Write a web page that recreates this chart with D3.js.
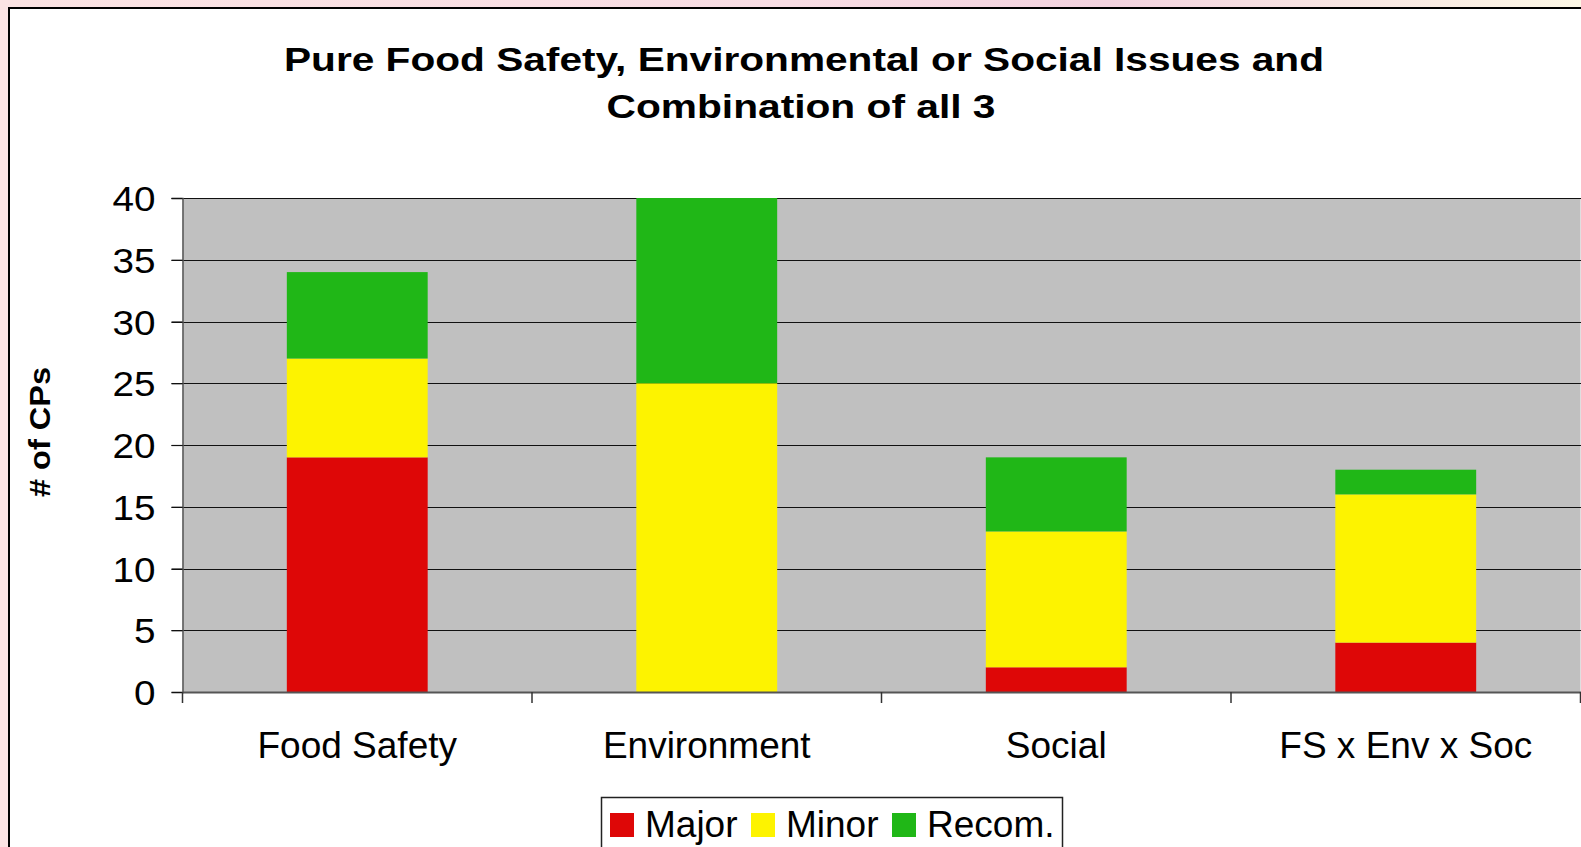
<!DOCTYPE html>
<html>
<head>
<meta charset="utf-8">
<script src="https://cdn.jsdelivr.net/npm/d3@7"></script>
<style>
  html, body { margin: 0; padding: 0; }
  body {
    width: 1581px; height: 847px; overflow: hidden;
    background: linear-gradient(90deg, #fbe3e3 0%, #f8dde4 50%, #f3d3df 70%, #fdf8e6 100%);
  }
  svg { display: block; font-family: "Liberation Sans", Arial, sans-serif; }
</style>
</head>
<body>
<svg id="chart"></svg>
<script>
const categories = ["Food Safety", "Environment", "Social", "FS x Env x Soc"];
const seriesNames = ["Major", "Minor", "Recom."];
const major = [19, 0, 2, 4];
const minor = [8, 25, 11, 12];
const recom = [7, 15, 6, 2];
const yTicks = [0, 5, 10, 15, 20, 25, 30, 35, 40];
const colors = ["#de0707", "#fdf300", "#20b717"];

const svgWidth = 1581;
const svgHeight = 847;

const svg = d3.select("#chart")
  .attr("width", svgWidth)
  .attr("height", svgHeight);

// frame of the chart (runs off the right and bottom edges)
svg.append("rect")
  .attr("x", 9).attr("y", 8)
  .attr("width", 1600).attr("height", 900)
  .attr("fill", "#fff")
  .attr("stroke", "#000")
  .attr("stroke-width", 2);

const plotLeft = 182.5, plotRight = 1580.5, plotTop = 198, plotBottom = 692;

let xScale = d3.scaleBand()
  .domain(categories)
  .range([plotLeft, plotRight])
  .paddingInner(0)
  .paddingOuter(0);

let yScale = d3.scaleLinear()
  .domain([0, 40])
  .range([plotBottom, plotTop]);

// plot background
svg.append("rect")
  .attr("x", plotLeft).attr("y", plotTop)
  .attr("width", plotRight - plotLeft)
  .attr("height", plotBottom - plotTop)
  .attr("fill", "#c0c0c0");

// gridlines
svg.append("g")
  .selectAll("line")
  .data(yTicks.filter(d => d > 0))
  .enter()
  .append("line")
  .attr("x1", plotLeft - 11)
  .attr("x2", plotRight + 5)
  .attr("y1", d => Math.round(yScale(d)) + 0.5)
  .attr("y2", d => Math.round(yScale(d)) + 0.5)
  .attr("stroke", "#111")
  .attr("stroke-width", 1.2);

// stacked bars
const table = categories.map((c, i) => ({ cat: c, Major: major[i], Minor: minor[i], "Recom.": recom[i] }));
const stacked = d3.stack().keys(seriesNames)(table);
const barW = xScale.bandwidth() * 0.403;

svg.append("g")
  .selectAll("g")
  .data(stacked)
  .enter()
  .append("g")
  .attr("fill", (d, i) => colors[i])
  .selectAll("rect")
  .data(d => d)
  .enter()
  .append("rect")
  .attr("x", d => xScale(d.data.cat) + (xScale.bandwidth() - barW) / 2)
  .attr("y", d => yScale(d[1]))
  .attr("width", barW)
  .attr("height", d => yScale(d[0]) - yScale(d[1]));

// y axis
let y_axis = d3.axisLeft(yScale).tickValues(yTicks).tickSize(11).tickPadding(16);
const yg = svg.append("g")
  .attr("transform", `translate(${plotLeft},0)`)
  .call(y_axis);
yg.select(".domain").attr("stroke", "#555").attr("stroke-width", 1.5);
yg.selectAll(".tick line").attr("stroke", "#111").attr("stroke-width", 1.2);
yg.selectAll(".tick text")
  .attr("font-size", 35)
  .attr("font-family", "Liberation Sans, Arial, sans-serif")
  .attr("fill", "#000")
  .attr("dy", "0.36em")
  .attr("textLength", d => String(d).length * 21.5)
  .attr("lengthAdjust", "spacingAndGlyphs");

// x axis
let x_axis = d3.axisBottom(xScale).tickSize(0).tickPadding(40);
const xg = svg.append("g")
  .attr("transform", `translate(0,${plotBottom})`)
  .call(x_axis);
xg.select(".domain").attr("stroke", "#555").attr("stroke-width", 2);
xg.selectAll(".tick text")
  .attr("font-size", 37)
  .attr("font-family", "Liberation Sans, Arial, sans-serif")
  .attr("fill", "#000");
xg.selectAll(".sep")
  .data(d3.range(categories.length + 1))
  .enter()
  .append("line")
  .attr("class", "sep")
  .attr("x1", i => plotLeft + i * xScale.bandwidth())
  .attr("x2", i => plotLeft + i * xScale.bandwidth())
  .attr("y1", 0).attr("y2", 11)
  .attr("stroke", "#333").attr("stroke-width", 1.5);

// title (the original is drawn a little wide)
const title = svg.append("text")
  .attr("text-anchor", "middle")
  .attr("font-weight", "bold")
  .attr("font-size", 34)
  .attr("fill", "#000");
title.append("tspan").attr("x", 804).attr("y", 71)
  .attr("textLength", 1040).attr("lengthAdjust", "spacingAndGlyphs")
  .text("Pure Food Safety, Environmental or Social Issues and");
title.append("tspan").attr("x", 801).attr("y", 118)
  .attr("textLength", 389).attr("lengthAdjust", "spacingAndGlyphs")
  .text("Combination of all 3");

// y label
svg.append("text")
  .attr("transform", "translate(50,432) rotate(-90)")
  .attr("text-anchor", "middle")
  .attr("font-weight", "bold")
  .attr("font-size", 30)
  .attr("textLength", 130)
  .attr("lengthAdjust", "spacingAndGlyphs")
  .text("# of CPs");

// legend
const legend = svg.append("g");
legend.append("rect")
  .attr("x", 601.5).attr("y", 797.5)
  .attr("width", 461).attr("height", 80)
  .attr("fill", "#fff").attr("stroke", "#222").attr("stroke-width", 1.5);
const legX = [610, 751, 892];
const items = legend.selectAll(".item")
  .data(seriesNames)
  .enter()
  .append("g")
  .attr("class", "item");
items.append("rect")
  .attr("x", (d, i) => legX[i]).attr("y", 813)
  .attr("width", 24).attr("height", 24)
  .attr("fill", (d, i) => colors[i]);
items.append("text")
  .attr("x", (d, i) => legX[i] + 35)
  .attr("y", 836.5)
  .attr("font-size", 37)
  .text(d => d);
</script>
</body>
</html>
